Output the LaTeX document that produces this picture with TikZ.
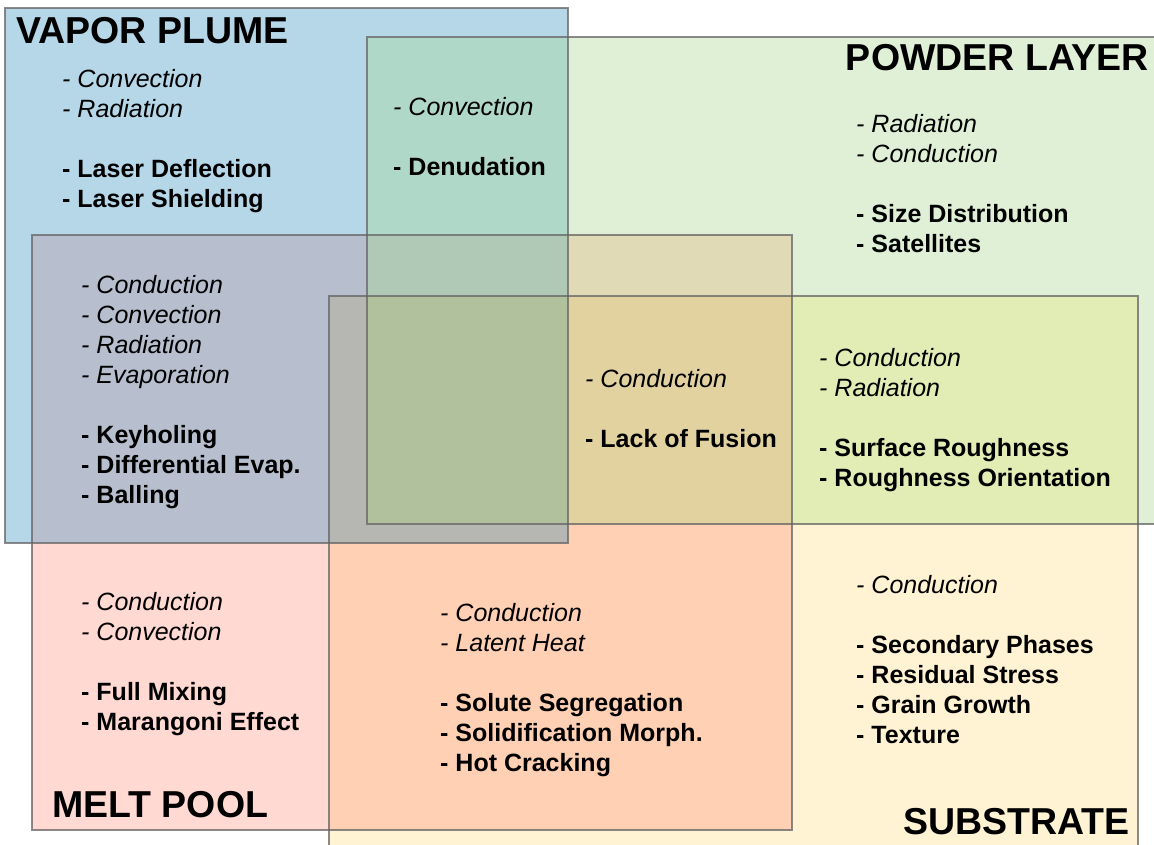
\documentclass[tikz,border=0pt]{standalone}
\usepackage{fontspec}
\setmainfont{Liberation Sans}
% single domains
\definecolor{cS}{RGB}{255,243,212}
\definecolor{cM}{RGB}{255,217,210}
\definecolor{cV}{RGB}{182,215,232}
\definecolor{cP}{RGB}{224,240,214}
% overlaps
\definecolor{cMS}{RGB}{255,208,180}
\definecolor{cVM}{RGB}{183,190,206}
\definecolor{cVMS}{RGB}{182,183,179}
\definecolor{cPS}{RGB}{226,236,181}
\definecolor{cPM}{RGB}{225,218,182}
\definecolor{cPMS}{RGB}{225,210,160}
\definecolor{cPV}{RGB}{176,216,200}
\definecolor{cPVM}{RGB}{176,200,182}
\definecolor{cPVMS}{RGB}{177,193,158}
\definecolor{edgec}{RGB}{100,100,100}
\begin{document}
\begin{tikzpicture}[x=1pt,y=-1pt,
  edge/.style={draw=edgec, line width=1.6pt, draw opacity=0.75},
  title/.style={font=\fontsize{37.5}{44}\selectfont\bfseries, inner sep=0pt},
  % each list is placed by the baseline of its last line
  items/.style={font=\fontsize{25}{30}\selectfont, align=left, inner sep=0pt, anchor=base west},
]
\useasboundingbox (0,0) rectangle (1154,844);
\clip (0,0) rectangle (1154,844);

% domain extents
\coordinate (S1) at (329,296); \coordinate (S2) at (1138,870);
\coordinate (M1) at (32,235);  \coordinate (M2) at (792,830);
\coordinate (V1) at (5,8);     \coordinate (V2) at (568,543);
\coordinate (P1) at (367,37);  \coordinate (P2) at (1180,524);

% fills, from single domains to the deepest overlaps
\fill[cS]  (S1) rectangle (S2);
\fill[cM]  (M1) rectangle (M2);
\fill[cMS] (329,296) rectangle (792,830);
\fill[cV]  (V1) rectangle (V2);
\fill[cVM] (32,235) rectangle (568,543);
\fill[cVMS] (329,296) rectangle (568,543);
\fill[cP]  (P1) rectangle (P2);
\fill[cPS] (367,296) rectangle (1138,524);
\fill[cPM] (367,235) rectangle (792,524);
\fill[cPMS] (367,296) rectangle (792,524);
\fill[cPV] (367,37) rectangle (568,524);
\fill[cPVM] (367,235) rectangle (568,524);
\fill[cPVMS] (367,296) rectangle (568,524);

% domain outlines
\draw[edge] (S1) rectangle (S2);
\draw[edge] (M1) rectangle (M2);
\draw[edge] (V1) rectangle (V2);
\draw[edge] (P1) rectangle (P2);

% domain titles
\node[title, anchor=base west] (tvapor)  at (16,43)   {VAPOR PLUME};
\node[title, anchor=base east] (tpowder) at (1149,70) {POWDER LAYER};
\node[title, anchor=base west] (tmelt)   at (52,817)  {MELT POOL};
\node[title, anchor=base east] (tsubst)  at (1130,834) {SUBSTRATE};

% vapor plume only
\node[items] (vp) at (62,207) {{\itshape - Convection}\\{\itshape - Radiation}\\[30pt]
  {\bfseries - Laser Deflection}\\{\bfseries - Laser Shielding}};
% vapor plume + powder layer
\node[items] (vpp) at (393,175) {{\itshape - Convection}\\[30pt]{\bfseries - Denudation}};
% powder layer only
\node[items] (pl) at (856,252) {{\itshape - Radiation}\\{\itshape - Conduction}\\[30pt]
  {\bfseries - Size Distribution}\\{\bfseries - Satellites}};
% vapor plume + melt pool
\node[items] (vpm) at (81,503) {{\itshape - Conduction}\\{\itshape - Convection}\\{\itshape - Radiation}\\{\itshape - Evaporation}\\[30pt]
  {\bfseries - Keyholing}\\{\bfseries - Differential Evap.}\\{\bfseries - Balling}};
% melt pool + powder layer + substrate
\node[items] (lof) at (585,447) {{\itshape - Conduction}\\[30pt]{\bfseries - Lack of Fusion}};
% powder layer + substrate
\node[items] (pls) at (819,486) {{\itshape - Conduction}\\{\itshape - Radiation}\\[30pt]
  {\bfseries - Surface Roughness}\\{\bfseries - Roughness Orientation}};
% melt pool only
\node[items] (mp) at (81,730) {{\itshape - Conduction}\\{\itshape - Convection}\\[30pt]
  {\bfseries - Full Mixing}\\{\bfseries - Marangoni Effect}};
% melt pool + substrate
\node[items] (mps) at (440,771) {{\itshape - Conduction}\\{\itshape - Latent Heat}\\[30pt]
  {\bfseries - Solute Segregation}\\{\bfseries - Solidification Morph.}\\{\bfseries - Hot Cracking}};
% substrate only
\node[items] (sb) at (856,743) {{\itshape - Conduction}\\[30pt]
  {\bfseries - Secondary Phases}\\{\bfseries - Residual Stress}\\{\bfseries - Grain Growth}\\{\bfseries - Texture}};
\end{tikzpicture}
\end{document}
